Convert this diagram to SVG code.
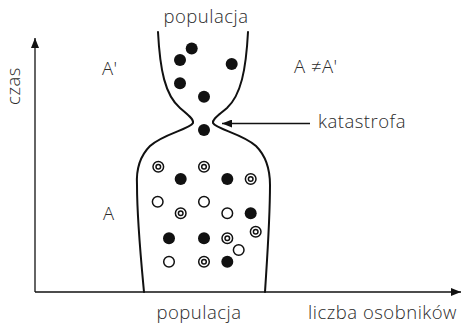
<svg xmlns="http://www.w3.org/2000/svg" width="461" height="325" viewBox="0 0 461 325">
  <style>
    .lbl { font-family: "Open Sans", "Liberation Sans", sans-serif; font-size: 18.5px; font-weight: 350; fill: #2a2a2a; letter-spacing: 0.5px; }
    .axis { stroke: #111; stroke-width: 1.3; fill: none; }
    .outline { stroke: #111; stroke-width: 2; fill: none; stroke-linecap: round; }
    .full { fill: #111; }
    .open { fill: #fff; stroke: #111; stroke-width: 1.5; }
  </style>
  <defs>
    <marker id="arrow" viewBox="0 0 10 8" refX="10" refY="4" markerWidth="10" markerHeight="8" markerUnits="userSpaceOnUse" orient="auto">
      <path d="M0,0 L10,4 L0,8 Z" fill="#111"/>
    </marker>
    <g id="ring">
      <circle r="5.3" class="open"/>
      <circle r="2.3" class="open"/>
    </g>
  </defs>
  <rect width="461" height="325" fill="#fff"/>

  <g id="connectors">
    <!-- time axis and size axis -->
    <path class="axis" d="M35,292 L35,38" marker-end="url(#arrow)"/>
    <path class="axis" d="M35,292 L461,292" marker-end="url(#arrow)"/>
    <!-- catastrophe pointer -->
    <path class="axis" d="M310,123.5 L222,123.5" marker-end="url(#arrow)"/>
  </g>

  <g id="population-shape">
    <path class="outline" d="M158,32 C160,70 165,95 180,108 C188,115 194,119 193,123 C190,129 163,134 150,146 C140,156 136,168 137,185 C137,220 141,260 144,292"/>
    <path class="outline" d="M248,32 C246,70 241,95 227,108 C219,115 212,119 213,123 C216,129 243,134 256,146 C266,156 270,168 270,185 C270,220 267,260 265,292"/>
  </g>

  <g id="survivors">
    <circle class="full" cx="191.7" cy="48.5" r="6"/>
    <circle class="full" cx="180" cy="60" r="6"/>
    <circle class="full" cx="231.7" cy="64" r="6"/>
    <circle class="full" cx="180" cy="83.3" r="6"/>
    <circle class="full" cx="204" cy="96.7" r="6"/>
    <circle class="full" cx="204" cy="130" r="6"/>
  </g>

  <g id="original-population">
    <use href="#ring" x="158.3" y="166.7"/>
    <use href="#ring" x="204" y="166.7"/>
    <circle class="full" cx="180.7" cy="179" r="6"/>
    <circle class="full" cx="227.3" cy="179" r="6"/>
    <use href="#ring" x="250.7" y="179"/>
    <circle class="open" cx="157.7" cy="201.7" r="5.3"/>
    <circle class="open" cx="204" cy="201.7" r="5.3"/>
    <use href="#ring" x="180.7" y="213.3"/>
    <circle class="open" cx="227.3" cy="213.3" r="5.3"/>
    <circle class="full" cx="250.7" cy="213.3" r="6"/>
    <circle class="full" cx="169" cy="238.3" r="6"/>
    <circle class="full" cx="204" cy="238.3" r="6"/>
    <use href="#ring" x="227.3" y="238.3"/>
    <use href="#ring" x="255.7" y="231.7"/>
    <circle class="open" cx="238.7" cy="250" r="5.3"/>
    <circle class="open" cx="169" cy="261.7" r="5.3"/>
    <use href="#ring" x="204" y="261.7"/>
    <circle class="full" cx="227.3" cy="261.7" r="6"/>
  </g>

  <g id="labels">
    <text class="lbl" x="206" y="23" text-anchor="middle">populacja</text>
    <text class="lbl" x="199" y="319" text-anchor="middle">populacja</text>
    <text class="lbl" x="457" y="319" text-anchor="end">liczba osobników</text>
    <text class="lbl" x="318" y="128">katastrofa</text>
    <text class="lbl" x="102" y="75">A'</text>
    <text class="lbl" x="103" y="220">A</text>
    <text class="lbl" x="294" y="73">A ≠A'</text>
    <text class="lbl" transform="translate(20,86) rotate(-90)" text-anchor="middle">czas</text>
  </g>
</svg>
